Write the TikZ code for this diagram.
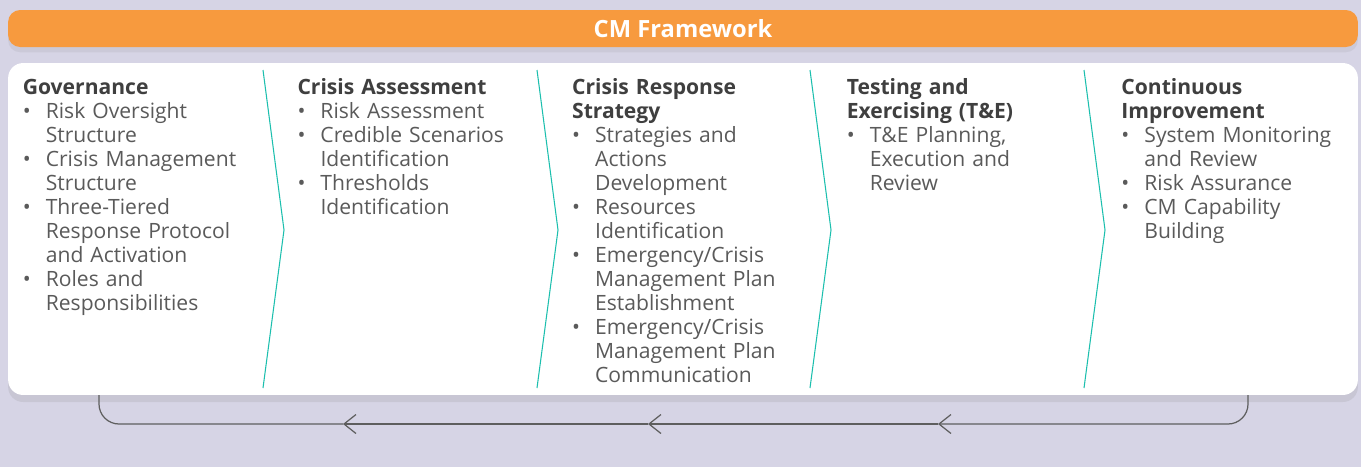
\documentclass[tikz,border=0pt]{standalone}
\usepackage{fontspec}
\setmainfont{Open Sans}
\usetikzlibrary{positioning,shadows,arrows.meta}

\definecolor{bgc}{HTML}{D6D4E5}
\definecolor{cmorange}{HTML}{F79A3E}
\definecolor{cmteal}{HTML}{1CBFAE}
\definecolor{headc}{HTML}{3F3F3F}
\definecolor{bodyc}{HTML}{5A5A5A}
\definecolor{linec}{HTML}{5E5E5E}

\newcommand{\bul}{\makebox[0.46cm][l]{\textbullet}}
\newcommand{\ind}{\hspace*{0.46cm}}
\newcommand{\hd}[1]{{\bfseries\color{headc}#1}}

\begin{document}
\begin{tikzpicture}[x=0.02cm, y=-0.02cm, node distance=0.68cm]

        \tikzstyle{banner} = [rectangle, rounded corners=12*0.02cm, minimum width=27cm, minimum height=0.74cm, fill=cmorange, text=white, font=\fontsize{13.5}{16}\selectfont\bfseries, drop shadow={opacity=0.12, shadow xshift=0pt, shadow yshift=-3pt}]
        \tikzstyle{panel} = [rectangle, rounded corners=15*0.02cm, minimum width=27cm, minimum height=6.64cm, fill=white, drop shadow={opacity=0.16, shadow xshift=0pt, shadow yshift=-4pt}]
        \tikzstyle{column} = [inner sep=0pt, text width=4.8cm, align=left, text=bodyc, font=\fontsize{12}{13.66}\selectfont, execute at begin node=\strut]
        \tikzstyle{sep} = [draw=cmteal, line width=0.6pt]
        \tikzstyle{ret} = [draw=linec, line width=0.7pt, rounded corners=20*0.02cm]
        \tikzstyle{arrow} = [-{Straight Barb[length=2.4mm, width=3.8mm]}]

        \fill[bgc] (0,0) rectangle (1361,467);
        \useasboundingbox (0,0) rectangle (1361,467);

        \node (frame) [banner] at (683,28.5) {CM Framework};
        \node (panel) [panel] at (683,229) {};

        \node (gov) [column, anchor=north west] at (22.5,77.5) {\hd{Governance}\\
            \bul Risk Oversight\\ \ind Structure\\
            \bul Crisis Management\\ \ind Structure\\
            \bul Three-Tiered\\ \ind Response Protocol\\ \ind and Activation\\
            \bul Roles and\\ \ind Responsibilities};
        \node (assess) [column, right=of gov.north east, anchor=north west] {\hd{Crisis Assessment}\\
            \bul Risk Assessment\\
            \bul Credible Scenarios\\ \ind Identification\\
            \bul Thresholds\\ \ind Identification};
        \node (resp) [column, right=of assess.north east, anchor=north west] {\hd{Crisis Response}\\ \hd{Strategy}\\
            \bul Strategies and\\ \ind Actions\\ \ind Development\\
            \bul Resources\\ \ind Identification\\
            \bul Emergency/Crisis\\ \ind Management Plan\\ \ind Establishment\\
            \bul Emergency/Crisis\\ \ind Management Plan\\ \ind Communication};
        \node (test) [column, right=of resp.north east, anchor=north west] {\hd{Testing and}\\ \hd{Exercising (T\&E)}\\
            \bul T\&E Planning,\\ \ind Execution and\\ \ind Review};
        \node (improve) [column, right=of test.north east, anchor=north west] {\hd{Continuous}\\ \hd{Improvement}\\
            \bul System Monitoring\\ \ind and Review\\
            \bul Risk Assurance\\
            \bul CM Capability\\ \ind Building};

        % chevron separators
        \foreach \x in {263,537,810,1084}
            \draw [sep] (\x,70) -- (\x+21,230) -- (\x,388);

        % feedback loop
        \coordinate (ret-r) at (1248,395);
        \coordinate (ret-l) at (99,395);
        \coordinate (a3) at (938,424);
        \coordinate (a2) at (648,424);
        \coordinate (a1) at (343,424);

        \draw [ret, arrow] (ret-r) |- (a3);
        \draw [ret, arrow] (a3) -- (a2);
        \draw [ret, arrow] (a2) -- (a1);
        \draw [ret] (a1) -| (ret-l);
    \end{tikzpicture}
\end{document}
